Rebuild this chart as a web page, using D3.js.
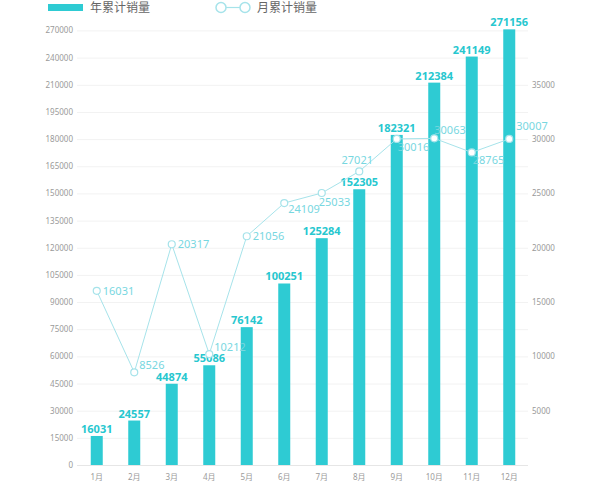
<!DOCTYPE html>
<html><head><meta charset="utf-8">
<script src="https://cdn.jsdelivr.net/npm/d3@7/dist/d3.min.js"></script>
<style>
body{margin:0;background:#fff;}
text{font-family:"Noto Sans","Noto Sans CJK SC",sans-serif;}
</style></head>
<body><svg id="c" width="600" height="490"></svg>
<script>
const months = ["1月","2月","3月","4月","5月","6月","7月","8月","9月","10月","11月","12月"];
const yearTotal = [16031,24557,44874,55086,76142,100251,125284,152305,182321,212384,241149,271156];
const monthTotal = [16031,8526,20317,10212,21056,24109,25033,27021,30016,30063,28765,30007];
const leftTicks = [0,15000,30000,45000,60000,75000,90000,105000,120000,135000,150000,165000,180000,195000,210000,240000,270000];
const rightTicks = [5000,10000,15000,20000,25000,30000,35000];
const seriesNames = ["年累计销量","月累计销量"];
// label placement for line labels (layout only)
const lineLabelPlace = ["right","rightUp","right","rightUp","right","rightBelow","bottom","top","bottomRight","topRight","bottomRight","rightUp2"];

const svg = d3.select("#c");
const barColor = "#2ecbd3", lineColor = "#a6e3ea", lineText = "#78d7df", axisText = "#9a9a9a";
const x = d3.scaleBand().domain(months).range([78,528]).paddingInner(0.68).paddingOuter(0.34);
const yL = d3.scaleLinear().domain([0,210000,270000]).range([465,84.8,30.4]);
const yR = d3.scaleLinear().domain([0,40000]).range([465,30.4]);

// gridlines
svg.append("g").selectAll("line").data(leftTicks).join("line")
  .attr("x1",77).attr("x2",528).attr("y1",d=>yL(d)+0.5).attr("y2",d=>yL(d)+0.5)
  .attr("stroke",d=>d===0?"#e6e6e6":"#f2f2f2").attr("stroke-width",1);

// left axis
const gl = svg.append("g").attr("transform","translate(77,0)")
  .call(d3.axisLeft(yL).tickValues(leftTicks).tickSize(0).tickPadding(4).tickFormat(d3.format("d")));
gl.select(".domain").remove();
gl.selectAll("text").attr("fill",axisText).style("font-size","8px");

// right axis
const gr = svg.append("g").attr("transform","translate(528,0)")
  .call(d3.axisRight(yR).tickValues(rightTicks).tickSize(0).tickPadding(4).tickFormat(d3.format("d")));
gr.select(".domain").remove();
gr.selectAll("text").attr("fill",axisText).style("font-size","8px");

// x axis
const gx = svg.append("g").attr("transform","translate(0,465)")
  .call(d3.axisBottom(x).tickSize(0).tickPadding(9));
gx.select(".domain").remove();
gx.selectAll("text").attr("fill",axisText).style("font-size","8px");

// bars
svg.append("g").selectAll("rect").data(yearTotal).join("rect")
  .attr("x",(d,i)=>x(months[i])).attr("width",x.bandwidth())
  .attr("y",d=>yL(d)).attr("height",d=>yL(0)-yL(d)).attr("fill",barColor);
svg.append("g").selectAll("text").data(yearTotal).join("text")
  .attr("x",(d,i)=>x(months[i])+x.bandwidth()/2).attr("y",d=>yL(d)-3)
  .attr("text-anchor","middle").attr("fill","#27c7cf")
  .style("font-size","11px").style("font-weight","bold").text(d=>d);

// line
const cx = (i)=>x(months[i])+x.bandwidth()/2;
svg.append("path").datum(monthTotal)
  .attr("d",d3.line().x((d,i)=>cx(i)).y(d=>yR(d)))
  .attr("fill","none").attr("stroke",lineColor).attr("stroke-width",1);
svg.append("g").selectAll("circle").data(monthTotal).join("circle")
  .attr("cx",(d,i)=>cx(i)).attr("cy",d=>yR(d)).attr("r",3.5)
  .attr("fill","#fff").attr("stroke",lineColor).attr("stroke-width",1.2);
const off = {right:[6,4,"start"], rightUp:[5,-3,"start"], rightUp2:[7,-9,"start"], rightBelow:[4,10,"start"],
  bottom:[-3,13,"start"], top:[-2,-7,"middle"], bottomRight:[1,12,"start"], topRight:[0,-4,"start"]};
svg.append("g").selectAll("text").data(monthTotal).join("text")
  .attr("x",(d,i)=>cx(i)+off[lineLabelPlace[i]][0])
  .attr("y",(d,i)=>yR(d)+off[lineLabelPlace[i]][1])
  .attr("text-anchor",(d,i)=>off[lineLabelPlace[i]][2])
  .attr("fill",lineText).style("font-size","11px").text(d=>d);

// legend
const lg = svg.append("g");
lg.append("rect").attr("x",48).attr("y",4).attr("width",35).attr("height",7).attr("fill",barColor);
lg.append("text").attr("x",90).attr("y",12).attr("fill","#666").style("font-size","12px").text(seriesNames[0]);
lg.append("line").attr("x1",221).attr("x2",245).attr("y1",7.5).attr("y2",7.5).attr("stroke",lineColor).attr("stroke-width",1.2);
lg.selectAll("circle").data([221,245]).join("circle").attr("cx",d=>d).attr("cy",7.5).attr("r",5)
  .attr("fill","#fff").attr("stroke",lineColor).attr("stroke-width",1.5);
lg.append("text").attr("x",257).attr("y",12).attr("fill","#666").style("font-size","12px").text(seriesNames[1]);
</script></body></html>
